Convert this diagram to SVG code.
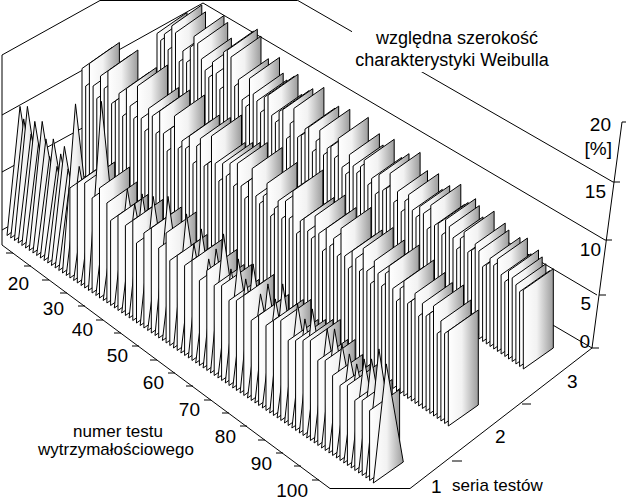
<svg xmlns="http://www.w3.org/2000/svg" xmlns:xlink="http://www.w3.org/1999/xlink" width="626" height="501" viewBox="0 0 626 501">
<style>
.ln{stroke:#000;stroke-width:1;fill:none}
.rb{stroke:#000;stroke-width:1;fill:url(#gr);vector-effect:non-scaling-stroke;stroke-linejoin:round}
text{font-family:"Liberation Sans",Arial,sans-serif;fill:#000}
.tk{font-size:19px;text-anchor:end}
.lb{font-size:17px;text-anchor:middle}
</style>
<defs>
<linearGradient id="gr" x1="0" y1="0" x2="1" y2="0">
<stop offset="0" stop-color="#ffffff"/><stop offset="0.45" stop-color="#f2f2f2"/><stop offset="1" stop-color="#9c9c9c"/>
</linearGradient>
<rect id="r" class="rb" x="-15" y="-100" width="30" height="100"/>
<rect id="q" class="rb" x="-15" y="-88" width="30" height="88"/>
<polygon id="t" class="rb" points="-15,0 15,0 -2,-100"/>
</defs>
<rect width="626" height="501" fill="#fff"/>
<g id="walls" class="ln">
<line x1="2" y1="55" x2="2" y2="245"/>
<line x1="2" y1="55" x2="100" y2="0.5"/>
<line x1="100" y1="0.5" x2="297" y2="0.5"/>
<line x1="2" y1="115" x2="203" y2="3"/>
<line x1="2" y1="172" x2="203" y2="62"/>
<line x1="2" y1="230" x2="203" y2="120"/>
<line x1="297" y1="0" x2="613" y2="182"/>
<line x1="203" y1="3" x2="605" y2="240"/>
<line x1="203" y1="62" x2="597" y2="295"/>
<line x1="203" y1="120" x2="592" y2="348"/>
</g>
<g id="series3" transform="translate(172,111)">
<use href="#q" transform="skewY(-35) scale(1,1.0)"/><g transform="translate(3.7,2.5)">
<use href="#q" transform="skewY(-35) scale(1,0.95)"/><g transform="translate(3.7,2.5)">
<use href="#q" transform="skewY(-35) scale(1,1.05)"/><g transform="translate(3.7,2.5)">
<use href="#q" transform="skewY(-35) scale(1,0.9)"/><g transform="translate(3.7,2.5)">
<use href="#q" transform="skewY(-35) scale(1,1.2)"/><g transform="translate(3.7,2.5)">
<use href="#q" transform="skewY(-35) scale(1,1.15)"/><g transform="translate(3.7,2.5)">
<use href="#q" transform="skewY(-35) scale(1,0.85)"/><g transform="translate(3.7,2.5)">
<use href="#q" transform="skewY(-35) scale(1,1.0)"/><g transform="translate(3.7,2.5)">
<use href="#q" transform="skewY(-35) scale(1,0.9)"/><g transform="translate(3.7,2.5)">
<use href="#q" transform="skewY(-35) scale(1,1.1)"/><g transform="translate(3.7,2.5)">
<use href="#q" transform="skewY(-35) scale(1,1.25)"/><g transform="translate(3.7,2.5)">
<use href="#q" transform="skewY(-35) scale(1,1.2)"/><g transform="translate(3.7,2.5)">
<use href="#q" transform="skewY(-35) scale(1,1.05)"/><g transform="translate(3.7,2.5)">
<use href="#q" transform="skewY(-35) scale(1,0.95)"/><g transform="translate(3.7,2.5)">
<use href="#q" transform="skewY(-35) scale(1,0.9)"/><g transform="translate(3.7,2.5)">
<use href="#q" transform="skewY(-35) scale(1,1.1)"/><g transform="translate(3.7,2.5)">
<use href="#q" transform="skewY(-35) scale(1,1.0)"/><g transform="translate(3.7,2.5)">
<use href="#q" transform="skewY(-35) scale(1,0.85)"/><g transform="translate(3.7,2.5)">
<use href="#q" transform="skewY(-35) scale(1,1.3)"/><g transform="translate(3.7,2.5)">
<use href="#q" transform="skewY(-35) scale(1,1.35)"/><g transform="translate(3.7,2.5)">
<use href="#q" transform="skewY(-35) scale(1,1.3)"/><g transform="translate(3.7,2.5)">
<use href="#q" transform="skewY(-35) scale(1,1.0)"/><g transform="translate(3.7,2.5)">
<use href="#q" transform="skewY(-35) scale(1,1.1)"/><g transform="translate(3.7,2.5)">
<use href="#q" transform="skewY(-35) scale(1,0.9)"/><g transform="translate(3.7,2.5)">
<use href="#q" transform="skewY(-35) scale(1,0.85)"/><g transform="translate(3.7,2.5)">
<use href="#q" transform="skewY(-35) scale(1,1.2)"/><g transform="translate(3.7,2.5)">
<use href="#q" transform="skewY(-35) scale(1,1.05)"/><g transform="translate(3.7,2.5)">
<use href="#q" transform="skewY(-35) scale(1,1.0)"/><g transform="translate(3.7,2.5)">
<use href="#q" transform="skewY(-35) scale(1,0.9)"/><g transform="translate(3.7,2.5)">
<use href="#q" transform="skewY(-35) scale(1,1.1)"/><g transform="translate(3.7,2.5)">
<use href="#q" transform="skewY(-35) scale(1,1.15)"/><g transform="translate(3.7,2.5)">
<use href="#q" transform="skewY(-35) scale(1,0.95)"/><g transform="translate(3.7,2.5)">
<use href="#q" transform="skewY(-35) scale(1,0.9)"/><g transform="translate(3.7,2.5)">
<use href="#q" transform="skewY(-35) scale(1,1.05)"/><g transform="translate(3.7,2.5)">
<use href="#q" transform="skewY(-35) scale(1,1.1)"/><g transform="translate(3.7,2.5)">
<use href="#q" transform="skewY(-35) scale(1,0.8)"/><g transform="translate(3.7,2.5)">
<use href="#q" transform="skewY(-35) scale(1,1.0)"/><g transform="translate(3.7,2.5)">
<use href="#q" transform="skewY(-35) scale(1,1.2)"/><g transform="translate(3.7,2.5)">
<use href="#q" transform="skewY(-35) scale(1,0.9)"/><g transform="translate(3.7,2.5)">
<use href="#q" transform="skewY(-35) scale(1,0.95)"/><g transform="translate(3.7,2.5)">
<use href="#q" transform="skewY(-35) scale(1,1.05)"/><g transform="translate(3.7,2.5)">
<use href="#q" transform="skewY(-35) scale(1,1.1)"/><g transform="translate(3.7,2.5)">
<use href="#q" transform="skewY(-35) scale(1,0.85)"/><g transform="translate(3.7,2.5)">
<use href="#q" transform="skewY(-35) scale(1,1.0)"/><g transform="translate(3.7,2.5)">
<use href="#q" transform="skewY(-35) scale(1,1.15)"/><g transform="translate(3.7,2.5)">
<use href="#q" transform="skewY(-35) scale(1,0.9)"/><g transform="translate(3.7,2.5)">
<use href="#q" transform="skewY(-35) scale(1,1.0)"/><g transform="translate(3.7,2.5)">
<use href="#q" transform="skewY(-35) scale(1,1.05)"/><g transform="translate(3.7,2.5)">
<use href="#q" transform="skewY(-35) scale(1,0.95)"/><g transform="translate(3.7,2.5)">
<use href="#q" transform="skewY(-35) scale(1,1.2)"/><g transform="translate(3.7,2.5)">
<use href="#q" transform="skewY(-35) scale(1,0.9)"/><g transform="translate(3.7,2.5)">
<use href="#q" transform="skewY(-35) scale(1,0.85)"/><g transform="translate(3.7,2.5)">
<use href="#q" transform="skewY(-35) scale(1,1.1)"/><g transform="translate(3.7,2.5)">
<use href="#q" transform="skewY(-35) scale(1,1.0)"/><g transform="translate(3.7,2.5)">
<use href="#q" transform="skewY(-35) scale(1,0.95)"/><g transform="translate(3.7,2.5)">
<use href="#q" transform="skewY(-35) scale(1,1.05)"/><g transform="translate(3.7,2.5)">
<use href="#q" transform="skewY(-35) scale(1,1.15)"/><g transform="translate(3.7,2.5)">
<use href="#q" transform="skewY(-35) scale(1,0.9)"/><g transform="translate(3.7,2.5)">
<use href="#q" transform="skewY(-35) scale(1,1.0)"/><g transform="translate(3.7,2.5)">
<use href="#q" transform="skewY(-35) scale(1,0.85)"/><g transform="translate(3.7,2.5)">
<use href="#q" transform="skewY(-35) scale(1,1.1)"/><g transform="translate(3.7,2.5)">
<use href="#q" transform="skewY(-35) scale(1,0.95)"/><g transform="translate(3.7,2.5)">
<use href="#q" transform="skewY(-35) scale(1,1.0)"/><g transform="translate(3.7,2.5)">
<use href="#q" transform="skewY(-35) scale(1,1.2)"/><g transform="translate(3.7,2.5)">
<use href="#q" transform="skewY(-35) scale(1,0.9)"/><g transform="translate(3.7,2.5)">
<use href="#q" transform="skewY(-35) scale(1,1.05)"/><g transform="translate(3.7,2.5)">
<use href="#q" transform="skewY(-35) scale(1,0.85)"/><g transform="translate(3.7,2.5)">
<use href="#q" transform="skewY(-35) scale(1,1.0)"/><g transform="translate(3.7,2.5)">
<use href="#q" transform="skewY(-35) scale(1,1.1)"/><g transform="translate(3.7,2.5)">
<use href="#q" transform="skewY(-35) scale(1,0.95)"/><g transform="translate(3.7,2.5)">
<use href="#q" transform="skewY(-35) scale(1,0.9)"/><g transform="translate(3.7,2.5)">
<use href="#q" transform="skewY(-35) scale(1,1.05)"/><g transform="translate(3.7,2.5)">
<use href="#q" transform="skewY(-35) scale(1,1.0)"/><g transform="translate(3.7,2.5)">
<use href="#q" transform="skewY(-35) scale(1,0.85)"/><g transform="translate(3.7,2.5)">
<use href="#q" transform="skewY(-35) scale(1,1.15)"/><g transform="translate(3.7,2.5)">
<use href="#q" transform="skewY(-35) scale(1,0.95)"/><g transform="translate(3.7,2.5)">
<use href="#q" transform="skewY(-35) scale(1,1.0)"/><g transform="translate(3.7,2.5)">
<use href="#q" transform="skewY(-35) scale(1,0.9)"/><g transform="translate(3.7,2.5)">
<use href="#q" transform="skewY(-35) scale(1,1.1)"/><g transform="translate(3.7,2.5)">
<use href="#q" transform="skewY(-35) scale(1,1.05)"/><g transform="translate(3.7,2.5)">
<use href="#q" transform="skewY(-35) scale(1,0.95)"/><g transform="translate(3.7,2.5)">
<use href="#q" transform="skewY(-35) scale(1,0.85)"/><g transform="translate(3.7,2.5)">
<use href="#q" transform="skewY(-35) scale(1,1.0)"/><g transform="translate(3.7,2.5)">
<use href="#q" transform="skewY(-35) scale(1,1.1)"/><g transform="translate(3.7,2.5)">
<use href="#q" transform="skewY(-35) scale(1,0.9)"/><g transform="translate(3.7,2.5)">
<use href="#q" transform="skewY(-35) scale(1,0.95)"/><g transform="translate(3.7,2.5)">
<use href="#q" transform="skewY(-35) scale(1,1.05)"/><g transform="translate(3.7,2.5)">
<use href="#q" transform="skewY(-35) scale(1,1.0)"/><g transform="translate(3.7,2.5)">
<use href="#q" transform="skewY(-35) scale(1,0.85)"/><g transform="translate(3.7,2.5)">
<use href="#q" transform="skewY(-35) scale(1,0.9)"/><g transform="translate(3.7,2.5)">
<use href="#q" transform="skewY(-35) scale(1,1.0)"/><g transform="translate(3.7,2.5)">
<use href="#q" transform="skewY(-35) scale(1,0.95)"/><g transform="translate(3.7,2.5)">
<use href="#q" transform="skewY(-35) scale(1,1.05)"/><g transform="translate(3.7,2.5)">
<use href="#q" transform="skewY(-35) scale(1,0.9)"/><g transform="translate(3.7,2.5)">
<use href="#q" transform="skewY(-35) scale(1,0.85)"/><g transform="translate(3.7,2.5)">
<use href="#q" transform="skewY(-35) scale(1,1.0)"/><g transform="translate(3.7,2.5)">
<use href="#q" transform="skewY(-35) scale(1,0.95)"/><g transform="translate(3.7,2.5)">
<use href="#q" transform="skewY(-35) scale(1,0.9)"/><g transform="translate(3.7,2.5)">
<use href="#q" transform="skewY(-35) scale(1,0.85)"/><g transform="translate(3.7,2.5)">
<use href="#q" transform="skewY(-35) scale(1,0.9)"/>
</g></g></g></g></g></g></g></g></g></g></g></g></g></g></g></g></g></g></g></g></g></g></g></g></g></g></g></g></g></g></g></g></g></g></g></g></g></g></g></g></g></g></g></g></g></g></g></g></g></g></g></g></g></g></g></g></g></g></g></g></g></g></g></g></g></g></g></g></g></g></g></g></g></g></g></g></g></g></g></g></g></g></g></g></g></g></g></g></g></g></g></g></g></g></g></g></g></g></g>
</g>
<g id="series2" transform="translate(97,168)">
<use href="#r" transform="skewY(-35) scale(1,1.1)"/><g transform="translate(3.7,2.5)">
<use href="#r" transform="skewY(-35) scale(1,0.95)"/><g transform="translate(3.7,2.5)">
<use href="#r" transform="skewY(-35) scale(1,1.2)"/><g transform="translate(3.7,2.5)">
<use href="#r" transform="skewY(-35) scale(1,1.0)"/><g transform="translate(3.7,2.5)">
<use href="#r" transform="skewY(-35) scale(1,0.9)"/><g transform="translate(3.7,2.5)">
<use href="#r" transform="skewY(-35) scale(1,1.15)"/><g transform="translate(3.7,2.5)">
<use href="#r" transform="skewY(-35) scale(1,1.05)"/><g transform="translate(3.7,2.5)">
<use href="#r" transform="skewY(-35) scale(1,1.25)"/><g transform="translate(3.7,2.5)">
<use href="#r" transform="skewY(-35) scale(1,0.95)"/><g transform="translate(3.7,2.5)">
<use href="#r" transform="skewY(-35) scale(1,1.0)"/><g transform="translate(3.7,2.5)">
<use href="#r" transform="skewY(-35) scale(1,1.1)"/><g transform="translate(3.7,2.5)">
<use href="#r" transform="skewY(-35) scale(1,0.9)"/><g transform="translate(3.7,2.5)">
<use href="#r" transform="skewY(-35) scale(1,1.2)"/><g transform="translate(3.7,2.5)">
<use href="#r" transform="skewY(-35) scale(1,1.05)"/><g transform="translate(3.7,2.5)">
<use href="#r" transform="skewY(-35) scale(1,0.95)"/><g transform="translate(3.7,2.5)">
<use href="#r" transform="skewY(-35) scale(1,1.3)"/><g transform="translate(3.7,2.5)">
<use href="#r" transform="skewY(-35) scale(1,1.0)"/><g transform="translate(3.7,2.5)">
<use href="#r" transform="skewY(-35) scale(1,0.9)"/><g transform="translate(3.7,2.5)">
<use href="#r" transform="skewY(-35) scale(1,1.15)"/><g transform="translate(3.7,2.5)">
<use href="#r" transform="skewY(-35) scale(1,1.1)"/><g transform="translate(3.7,2.5)">
<use href="#r" transform="skewY(-35) scale(1,0.95)"/><g transform="translate(3.7,2.5)">
<use href="#r" transform="skewY(-35) scale(1,1.2)"/><g transform="translate(3.7,2.5)">
<use href="#r" transform="skewY(-35) scale(1,1.0)"/><g transform="translate(3.7,2.5)">
<use href="#r" transform="skewY(-35) scale(1,0.85)"/><g transform="translate(3.7,2.5)">
<use href="#r" transform="skewY(-35) scale(1,1.1)"/><g transform="translate(3.7,2.5)">
<use href="#r" transform="skewY(-35) scale(1,1.25)"/><g transform="translate(3.7,2.5)">
<use href="#r" transform="skewY(-35) scale(1,0.95)"/><g transform="translate(3.7,2.5)">
<use href="#r" transform="skewY(-35) scale(1,1.05)"/><g transform="translate(3.7,2.5)">
<use href="#r" transform="skewY(-35) scale(1,1.0)"/><g transform="translate(3.7,2.5)">
<use href="#r" transform="skewY(-35) scale(1,1.15)"/><g transform="translate(3.7,2.5)">
<use href="#r" transform="skewY(-35) scale(1,0.9)"/><g transform="translate(3.7,2.5)">
<use href="#r" transform="skewY(-35) scale(1,1.1)"/><g transform="translate(3.7,2.5)">
<use href="#r" transform="skewY(-35) scale(1,1.2)"/><g transform="translate(3.7,2.5)">
<use href="#r" transform="skewY(-35) scale(1,0.95)"/><g transform="translate(3.7,2.5)">
<use href="#r" transform="skewY(-35) scale(1,1.0)"/><g transform="translate(3.7,2.5)">
<use href="#r" transform="skewY(-35) scale(1,1.3)"/><g transform="translate(3.7,2.5)">
<use href="#r" transform="skewY(-35) scale(1,1.05)"/><g transform="translate(3.7,2.5)">
<use href="#r" transform="skewY(-35) scale(1,0.9)"/><g transform="translate(3.7,2.5)">
<use href="#r" transform="skewY(-35) scale(1,1.1)"/><g transform="translate(3.7,2.5)">
<use href="#r" transform="skewY(-35) scale(1,1.0)"/><g transform="translate(3.7,2.5)">
<use href="#r" transform="skewY(-35) scale(1,1.15)"/><g transform="translate(3.7,2.5)">
<use href="#r" transform="skewY(-35) scale(1,0.95)"/><g transform="translate(3.7,2.5)">
<use href="#r" transform="skewY(-35) scale(1,1.2)"/><g transform="translate(3.7,2.5)">
<use href="#r" transform="skewY(-35) scale(1,1.0)"/><g transform="translate(3.7,2.5)">
<use href="#r" transform="skewY(-35) scale(1,0.9)"/><g transform="translate(3.7,2.5)">
<use href="#r" transform="skewY(-35) scale(1,1.1)"/><g transform="translate(3.7,2.5)">
<use href="#r" transform="skewY(-35) scale(1,1.25)"/><g transform="translate(3.7,2.5)">
<use href="#r" transform="skewY(-35) scale(1,1.0)"/><g transform="translate(3.7,2.5)">
<use href="#r" transform="skewY(-35) scale(1,0.95)"/><g transform="translate(3.7,2.5)">
<use href="#r" transform="skewY(-35) scale(1,1.05)"/><g transform="translate(3.7,2.5)">
<use href="#r" transform="skewY(-35) scale(1,1.2)"/><g transform="translate(3.7,2.5)">
<use href="#r" transform="skewY(-35) scale(1,0.9)"/><g transform="translate(3.7,2.5)">
<use href="#r" transform="skewY(-35) scale(1,1.0)"/><g transform="translate(3.7,2.5)">
<use href="#r" transform="skewY(-35) scale(1,1.1)"/><g transform="translate(3.7,2.5)">
<use href="#r" transform="skewY(-35) scale(1,0.95)"/><g transform="translate(3.7,2.5)">
<use href="#r" transform="skewY(-35) scale(1,1.15)"/><g transform="translate(3.7,2.5)">
<use href="#r" transform="skewY(-35) scale(1,1.0)"/><g transform="translate(3.7,2.5)">
<use href="#r" transform="skewY(-35) scale(1,1.3)"/><g transform="translate(3.7,2.5)">
<use href="#r" transform="skewY(-35) scale(1,0.9)"/><g transform="translate(3.7,2.5)">
<use href="#r" transform="skewY(-35) scale(1,1.05)"/><g transform="translate(3.7,2.5)">
<use href="#r" transform="skewY(-35) scale(1,1.1)"/><g transform="translate(3.7,2.5)">
<use href="#r" transform="skewY(-35) scale(1,1.0)"/><g transform="translate(3.7,2.5)">
<use href="#r" transform="skewY(-35) scale(1,0.95)"/><g transform="translate(3.7,2.5)">
<use href="#r" transform="skewY(-35) scale(1,1.2)"/><g transform="translate(3.7,2.5)">
<use href="#r" transform="skewY(-35) scale(1,1.05)"/><g transform="translate(3.7,2.5)">
<use href="#r" transform="skewY(-35) scale(1,0.9)"/><g transform="translate(3.7,2.5)">
<use href="#r" transform="skewY(-35) scale(1,1.15)"/><g transform="translate(3.7,2.5)">
<use href="#r" transform="skewY(-35) scale(1,1.0)"/><g transform="translate(3.7,2.5)">
<use href="#r" transform="skewY(-35) scale(1,1.1)"/><g transform="translate(3.7,2.5)">
<use href="#r" transform="skewY(-35) scale(1,0.95)"/><g transform="translate(3.7,2.5)">
<use href="#r" transform="skewY(-35) scale(1,1.25)"/><g transform="translate(3.7,2.5)">
<use href="#r" transform="skewY(-35) scale(1,1.0)"/><g transform="translate(3.7,2.5)">
<use href="#r" transform="skewY(-35) scale(1,0.9)"/><g transform="translate(3.7,2.5)">
<use href="#r" transform="skewY(-35) scale(1,1.1)"/><g transform="translate(3.7,2.5)">
<use href="#r" transform="skewY(-35) scale(1,1.05)"/><g transform="translate(3.7,2.5)">
<use href="#r" transform="skewY(-35) scale(1,0.95)"/><g transform="translate(3.7,2.5)">
<use href="#r" transform="skewY(-35) scale(1,1.2)"/><g transform="translate(3.7,2.5)">
<use href="#r" transform="skewY(-35) scale(1,1.0)"/><g transform="translate(3.7,2.5)">
<use href="#r" transform="skewY(-35) scale(1,0.9)"/><g transform="translate(3.7,2.5)">
<use href="#r" transform="skewY(-35) scale(1,1.15)"/><g transform="translate(3.7,2.5)">
<use href="#r" transform="skewY(-35) scale(1,1.05)"/><g transform="translate(3.7,2.5)">
<use href="#r" transform="skewY(-35) scale(1,0.95)"/><g transform="translate(3.7,2.5)">
<use href="#r" transform="skewY(-35) scale(1,1.1)"/><g transform="translate(3.7,2.5)">
<use href="#r" transform="skewY(-35) scale(1,1.2)"/><g transform="translate(3.7,2.5)">
<use href="#r" transform="skewY(-35) scale(1,1.0)"/><g transform="translate(3.7,2.5)">
<use href="#r" transform="skewY(-35) scale(1,0.9)"/><g transform="translate(3.7,2.5)">
<use href="#r" transform="skewY(-35) scale(1,1.05)"/><g transform="translate(3.7,2.5)">
<use href="#r" transform="skewY(-35) scale(1,1.15)"/><g transform="translate(3.7,2.5)">
<use href="#r" transform="skewY(-35) scale(1,0.95)"/><g transform="translate(3.7,2.5)">
<use href="#r" transform="skewY(-35) scale(1,1.0)"/><g transform="translate(3.7,2.5)">
<use href="#r" transform="skewY(-35) scale(1,1.1)"/><g transform="translate(3.7,2.5)">
<use href="#r" transform="skewY(-35) scale(1,0.9)"/><g transform="translate(3.7,2.5)">
<use href="#r" transform="skewY(-35) scale(1,1.05)"/><g transform="translate(3.7,2.5)">
<use href="#r" transform="skewY(-35) scale(1,0.95)"/><g transform="translate(3.7,2.5)">
<use href="#r" transform="skewY(-35) scale(1,1.0)"/><g transform="translate(3.7,2.5)">
<use href="#r" transform="skewY(-35) scale(1,1.1)"/><g transform="translate(3.7,2.5)">
<use href="#r" transform="skewY(-35) scale(1,0.85)"/><g transform="translate(3.7,2.5)">
<use href="#r" transform="skewY(-35) scale(1,1.0)"/><g transform="translate(3.7,2.5)">
<use href="#r" transform="skewY(-35) scale(1,0.9)"/><g transform="translate(3.7,2.5)">
<use href="#r" transform="skewY(-35) scale(1,0.95)"/>
</g></g></g></g></g></g></g></g></g></g></g></g></g></g></g></g></g></g></g></g></g></g></g></g></g></g></g></g></g></g></g></g></g></g></g></g></g></g></g></g></g></g></g></g></g></g></g></g></g></g></g></g></g></g></g></g></g></g></g></g></g></g></g></g></g></g></g></g></g></g></g></g></g></g></g></g></g></g></g></g></g></g></g></g></g></g></g></g></g></g></g></g></g></g></g></g></g></g></g>
</g>
<g id="series1" transform="translate(22,225)">
<use href="#t" transform="skewY(-35) scale(1,1.2)"/><g transform="translate(3.7,2.5)">
<use href="#t" transform="skewY(-35) scale(1,1.1)"/><g transform="translate(3.7,2.5)">
<use href="#t" transform="skewY(-35) scale(1,1.25)"/><g transform="translate(3.7,2.5)">
<use href="#t" transform="skewY(-35) scale(1,1.0)"/><g transform="translate(3.7,2.5)">
<use href="#t" transform="skewY(-35) scale(1,1.15)"/><g transform="translate(3.7,2.5)">
<use href="#t" transform="skewY(-35) scale(1,0.95)"/><g transform="translate(3.7,2.5)">
<use href="#t" transform="skewY(-35) scale(1,1.2)"/><g transform="translate(3.7,2.5)">
<use href="#t" transform="skewY(-35) scale(1,1.05)"/><g transform="translate(3.7,2.5)">
<use href="#t" transform="skewY(-35) scale(1,0.9)"/><g transform="translate(3.7,2.5)">
<use href="#t" transform="skewY(-35) scale(1,1.1)"/><g transform="translate(3.7,2.5)">
<use href="#t" transform="skewY(-35) scale(1,0.85)"/><g transform="translate(3.7,2.5)">
<use href="#t" transform="skewY(-35) scale(1,1.0)"/><g transform="translate(3.7,2.5)">
<use href="#t" transform="skewY(-35) scale(1,1.1)"/><g transform="translate(3.7,2.5)">
<use href="#t" transform="skewY(-35) scale(1,0.9)"/><g transform="translate(3.7,2.5)">
<use href="#t" transform="skewY(-35) scale(1,0.95)"/><g transform="translate(3.7,2.5)">
<use href="#t" transform="skewY(-35) scale(1,1.6)"/><g transform="translate(3.7,2.5)">
<use href="#t" transform="skewY(-35) scale(1,1.0)"/><g transform="translate(3.7,2.5)">
<use href="#r" transform="skewY(-35) scale(1,0.9)"/><g transform="translate(3.7,2.5)">
<use href="#t" transform="skewY(-35) scale(1,0.85)"/><g transform="translate(3.7,2.5)">
<use href="#r" transform="skewY(-35) scale(1,1.0)"/><g transform="translate(3.7,2.5)">
<use href="#t" transform="skewY(-35) scale(1,0.9)"/><g transform="translate(3.7,2.5)">
<use href="#r" transform="skewY(-35) scale(1,1.05)"/><g transform="translate(3.7,2.5)">
<use href="#t" transform="skewY(-35) scale(1,1.8)"/><g transform="translate(3.7,2.5)">
<use href="#r" transform="skewY(-35) scale(1,0.95)"/><g transform="translate(3.7,2.5)">
<use href="#t" transform="skewY(-35) scale(1,1.0)"/><g transform="translate(3.7,2.5)">
<use href="#r" transform="skewY(-35) scale(1,1.1)"/><g transform="translate(3.7,2.5)">
<use href="#t" transform="skewY(-35) scale(1,0.9)"/><g transform="translate(3.7,2.5)">
<use href="#r" transform="skewY(-35) scale(1,1.0)"/><g transform="translate(3.7,2.5)">
<use href="#r" transform="skewY(-35) scale(1,0.85)"/><g transform="translate(3.7,2.5)">
<use href="#t" transform="skewY(-35) scale(1,1.1)"/><g transform="translate(3.7,2.5)">
<use href="#r" transform="skewY(-35) scale(1,0.95)"/><g transform="translate(3.7,2.5)">
<use href="#t" transform="skewY(-35) scale(1,1.0)"/><g transform="translate(3.7,2.5)">
<use href="#r" transform="skewY(-35) scale(1,0.9)"/><g transform="translate(3.7,2.5)">
<use href="#t" transform="skewY(-35) scale(1,1.15)"/><g transform="translate(3.7,2.5)">
<use href="#r" transform="skewY(-35) scale(1,1.0)"/><g transform="translate(3.7,2.5)">
<use href="#r" transform="skewY(-35) scale(1,0.8)"/><g transform="translate(3.7,2.5)">
<use href="#t" transform="skewY(-35) scale(1,1.2)"/><g transform="translate(3.7,2.5)">
<use href="#r" transform="skewY(-35) scale(1,0.95)"/><g transform="translate(3.7,2.5)">
<use href="#t" transform="skewY(-35) scale(1,0.9)"/><g transform="translate(3.7,2.5)">
<use href="#r" transform="skewY(-35) scale(1,1.05)"/><g transform="translate(3.7,2.5)">
<use href="#t" transform="skewY(-35) scale(1,1.3)"/><g transform="translate(3.7,2.5)">
<use href="#r" transform="skewY(-35) scale(1,0.9)"/><g transform="translate(3.7,2.5)">
<use href="#t" transform="skewY(-35) scale(1,1.0)"/><g transform="translate(3.7,2.5)">
<use href="#r" transform="skewY(-35) scale(1,1.1)"/><g transform="translate(3.7,2.5)">
<use href="#r" transform="skewY(-35) scale(1,0.85)"/><g transform="translate(3.7,2.5)">
<use href="#t" transform="skewY(-35) scale(1,1.25)"/><g transform="translate(3.7,2.5)">
<use href="#r" transform="skewY(-35) scale(1,0.95)"/><g transform="translate(3.7,2.5)">
<use href="#t" transform="skewY(-35) scale(1,1.0)"/><g transform="translate(3.7,2.5)">
<use href="#r" transform="skewY(-35) scale(1,0.9)"/><g transform="translate(3.7,2.5)">
<use href="#t" transform="skewY(-35) scale(1,1.2)"/><g transform="translate(3.7,2.5)">
<use href="#r" transform="skewY(-35) scale(1,1.0)"/><g transform="translate(3.7,2.5)">
<use href="#t" transform="skewY(-35) scale(1,0.95)"/><g transform="translate(3.7,2.5)">
<use href="#r" transform="skewY(-35) scale(1,0.85)"/><g transform="translate(3.7,2.5)">
<use href="#t" transform="skewY(-35) scale(1,1.1)"/><g transform="translate(3.7,2.5)">
<use href="#r" transform="skewY(-35) scale(1,1.0)"/><g transform="translate(3.7,2.5)">
<use href="#t" transform="skewY(-35) scale(1,1.3)"/><g transform="translate(3.7,2.5)">
<use href="#r" transform="skewY(-35) scale(1,0.9)"/><g transform="translate(3.7,2.5)">
<use href="#t" transform="skewY(-35) scale(1,1.0)"/><g transform="translate(3.7,2.5)">
<use href="#r" transform="skewY(-35) scale(1,0.95)"/><g transform="translate(3.7,2.5)">
<use href="#t" transform="skewY(-35) scale(1,1.15)"/><g transform="translate(3.7,2.5)">
<use href="#r" transform="skewY(-35) scale(1,0.85)"/><g transform="translate(3.7,2.5)">
<use href="#t" transform="skewY(-35) scale(1,1.0)"/><g transform="translate(3.7,2.5)">
<use href="#r" transform="skewY(-35) scale(1,0.9)"/><g transform="translate(3.7,2.5)">
<use href="#t" transform="skewY(-35) scale(1,1.2)"/><g transform="translate(3.7,2.5)">
<use href="#r" transform="skewY(-35) scale(1,1.0)"/><g transform="translate(3.7,2.5)">
<use href="#t" transform="skewY(-35) scale(1,0.95)"/><g transform="translate(3.7,2.5)">
<use href="#r" transform="skewY(-35) scale(1,0.8)"/><g transform="translate(3.7,2.5)">
<use href="#t" transform="skewY(-35) scale(1,1.1)"/><g transform="translate(3.7,2.5)">
<use href="#r" transform="skewY(-35) scale(1,0.9)"/><g transform="translate(3.7,2.5)">
<use href="#t" transform="skewY(-35) scale(1,1.0)"/><g transform="translate(3.7,2.5)">
<use href="#r" transform="skewY(-35) scale(1,0.85)"/><g transform="translate(3.7,2.5)">
<use href="#t" transform="skewY(-35) scale(1,1.2)"/><g transform="translate(3.7,2.5)">
<use href="#r" transform="skewY(-35) scale(1,0.95)"/><g transform="translate(3.7,2.5)">
<use href="#t" transform="skewY(-35) scale(1,0.9)"/><g transform="translate(3.7,2.5)">
<use href="#r" transform="skewY(-35) scale(1,1.0)"/><g transform="translate(3.7,2.5)">
<use href="#t" transform="skewY(-35) scale(1,1.1)"/><g transform="translate(3.7,2.5)">
<use href="#r" transform="skewY(-35) scale(1,0.85)"/><g transform="translate(3.7,2.5)">
<use href="#t" transform="skewY(-35) scale(1,1.0)"/><g transform="translate(3.7,2.5)">
<use href="#r" transform="skewY(-35) scale(1,0.9)"/><g transform="translate(3.7,2.5)">
<use href="#t" transform="skewY(-35) scale(1,1.15)"/><g transform="translate(3.7,2.5)">
<use href="#r" transform="skewY(-35) scale(1,0.95)"/><g transform="translate(3.7,2.5)">
<use href="#t" transform="skewY(-35) scale(1,0.9)"/><g transform="translate(3.7,2.5)">
<use href="#r" transform="skewY(-35) scale(1,1.0)"/><g transform="translate(3.7,2.5)">
<use href="#t" transform="skewY(-35) scale(1,1.05)"/><g transform="translate(3.7,2.5)">
<use href="#r" transform="skewY(-35) scale(1,0.85)"/><g transform="translate(3.7,2.5)">
<use href="#t" transform="skewY(-35) scale(1,1.1)"/><g transform="translate(3.7,2.5)">
<use href="#r" transform="skewY(-35) scale(1,0.9)"/><g transform="translate(3.7,2.5)">
<use href="#t" transform="skewY(-35) scale(1,1.0)"/><g transform="translate(3.7,2.5)">
<use href="#r" transform="skewY(-35) scale(1,0.8)"/><g transform="translate(3.7,2.5)">
<use href="#t" transform="skewY(-35) scale(1,0.95)"/><g transform="translate(3.7,2.5)">
<use href="#r" transform="skewY(-35) scale(1,0.75)"/><g transform="translate(3.7,2.5)">
<use href="#t" transform="skewY(-35) scale(1,0.9)"/><g transform="translate(3.7,2.5)">
<use href="#r" transform="skewY(-35) scale(1,0.8)"/><g transform="translate(3.7,2.5)">
<use href="#t" transform="skewY(-35) scale(1,1.0)"/><g transform="translate(3.7,2.5)">
<use href="#r" transform="skewY(-35) scale(1,0.7)"/><g transform="translate(3.7,2.5)">
<use href="#t" transform="skewY(-35) scale(1,1.05)"/><g transform="translate(3.7,2.5)">
<use href="#r" transform="skewY(-35) scale(1,0.75)"/><g transform="translate(3.7,2.5)">
<use href="#t" transform="skewY(-35) scale(1,1.2)"/><g transform="translate(3.7,2.5)">
<use href="#r" transform="skewY(-35) scale(1,0.7)"/><g transform="translate(3.7,2.5)">
<use href="#t" transform="skewY(-35) scale(1,1.1)"/>
</g></g></g></g></g></g></g></g></g></g></g></g></g></g></g></g></g></g></g></g></g></g></g></g></g></g></g></g></g></g></g></g></g></g></g></g></g></g></g></g></g></g></g></g></g></g></g></g></g></g></g></g></g></g></g></g></g></g></g></g></g></g></g></g></g></g></g></g></g></g></g></g></g></g></g></g></g></g></g></g></g></g></g></g></g></g></g></g></g></g></g></g></g></g></g></g></g></g></g>
</g>
<g id="axes" class="ln">
<line x1="2" y1="245" x2="330" y2="488.5"/>
<line x1="330" y1="488.5" x2="410" y2="488.5"/>
<line x1="410" y1="488.5" x2="592" y2="348"/>
<line x1="592" y1="348" x2="622" y2="122"/>
<path d="M13,253h-7M31,266h-7M49,280h-7M67,293h-7M85,306h-7M103,320h-7M121,333h-7M139,346h-7M157,360h-7M175,373h-7M193,386h-7M211,400h-7M229,413h-7M247,426h-7M265,440h-7M283,453h-7M301,466h-7M319,480h-7"/>
<path d="M452,461h10M522,404h9"/>
<path d="M592,348h7M599,295h7M605,240h7M613,182h7M622,122h6"/>
</g>
<g id="labels">
<rect x="352" y="26" width="204" height="46" fill="#fff"/>
<text class="lb" x="457" y="44" style="font-size:18px">względna szerokość</text>
<text class="lb" x="452" y="66" style="font-size:18px">charakterystyki Weibulla</text>
<text class="tk" x="29" y="290">20</text>
<text class="tk" x="64" y="315">30</text>
<text class="tk" x="93" y="336">40</text>
<text class="tk" x="128" y="362">50</text>
<text class="tk" x="164" y="389">60</text>
<text class="tk" x="200" y="416">70</text>
<text class="tk" x="236" y="443">80</text>
<text class="tk" x="272" y="470">90</text>
<text class="tk" x="308" y="497">100</text>
<text class="lb" x="118" y="437">numer testu</text>
<text class="lb" x="116" y="455">wytrzymałościowego</text>
<text class="tk" x="590" y="348">0</text>
<text class="tk" x="591" y="310">5</text>
<text class="tk" x="601" y="256">10</text>
<text class="tk" x="606" y="198">15</text>
<text class="tk" x="611" y="131">20</text>
<text class="tk" x="612" y="155">[%]</text>
<text x="431" y="493" style="font-size:19px">1</text>
<text x="452" y="491" style="font-size:17px">seria testów</text>
<text x="495" y="443" style="font-size:19px">2</text>
<text x="567" y="388" style="font-size:19px">3</text>
</g>
</svg>
